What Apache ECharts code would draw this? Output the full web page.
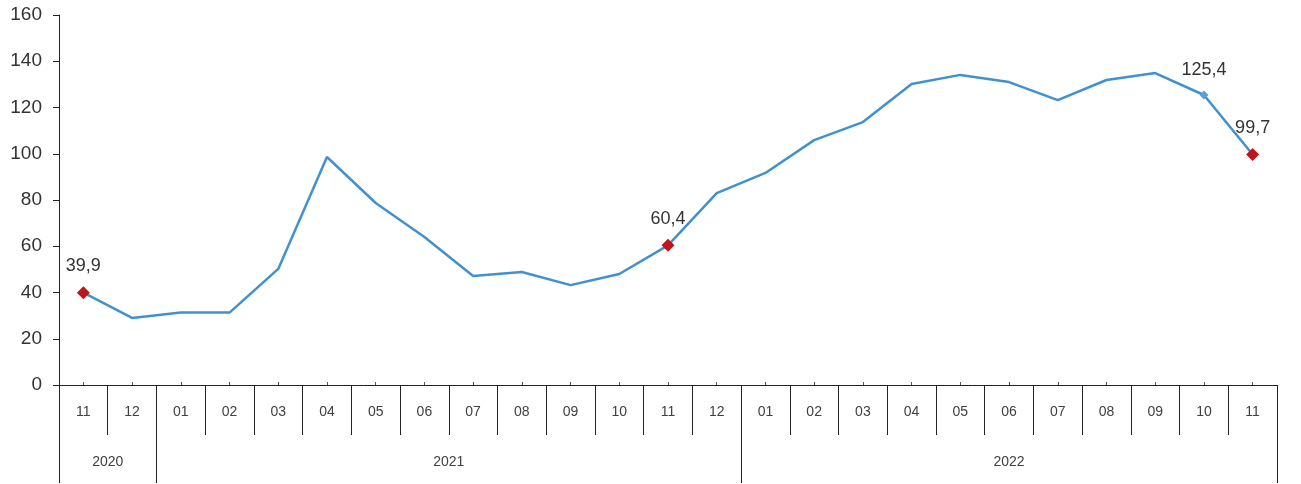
<!DOCTYPE html>
<html>
<head>
<meta charset="utf-8">
<script src="https://cdn.jsdelivr.net/npm/echarts@6/dist/echarts.min.js"></script>
<style>
html,body{margin:0;padding:0;background:#fff;}
#c{width:1301px;height:484px;}
</style>
</head>
<body>
<div id="c"></div>
<script>
var months = ['11','12','01','02','03','04','05','06','07','08','09','10','11','12','01','02','03','04','05','06','07','08','09','10','11'];
var years  = ['2020','2020','2021','2021','2021','2021','2021','2021','2021','2021','2021','2021','2021','2021','2022','2022','2022','2022','2022','2022','2022','2022','2022','2022','2022'];
var values = [39.9,29.0,31.4,31.3,50.2,98.6,78.7,64.0,47.1,48.9,43.2,48.0,60.4,83.0,91.7,105.9,113.7,130.2,134.1,131.0,123.2,131.9,134.9,125.4,99.7];
var redPoints = [0,12,24];
var bluePoints = [23];
var yTicks = {min:0, max:160, interval:20};

var n = months.length;
// year row built in half-category slots
var yearSlots = [];
for (var i = 0; i <= 2*n; i++) yearSlots.push('');
var yearTickSlots = {};
var s = 0;
for (var i = 1; i <= n; i++) {
  if (i === n || years[i] !== years[s]) {
    yearSlots[s + (i - 1) + 1] = years[s];
    yearTickSlots[2*s] = true;
    s = i;
  }
}
yearTickSlots[2*n] = true;

function fmt(v){ return String(v.toFixed(1)).replace('.', ','); }

var data = values.map(function(v, i){
  var item = {value: v};
  if (redPoints.indexOf(i) >= 0) {
    item.symbol = 'diamond'; item.symbolSize = 13;
    item.itemStyle = {color:'#c0141c'};
    item.label = {show:true};
  } else if (bluePoints.indexOf(i) >= 0) {
    item.symbol = 'diamond'; item.symbolSize = 9;
    item.itemStyle = {color:'#5aa0d8'};
    item.label = {show:true};
  } else {
    item.symbol = 'none';
  }
  return item;
});

var font = 'Liberation Sans, Arial, sans-serif';
var chart = echarts.init(document.getElementById('c'));
chart.setOption({
  animation:false,
  grid:{left:59, right:24, top:15, bottom:99},
  xAxis:[
    {
      type:'category', data:months, boundaryGap:true, position:'bottom',
      axisLine:{show:true, lineStyle:{color:'#222', width:1}},
      axisTick:{show:true, interval:0, length:50, lineStyle:{color:'#222', width:1}},
      axisLabel:{interval:0, margin:20, fontSize:14, color:'#404040', fontFamily:font}
    },
    {
      type:'category', data:yearSlots, boundaryGap:false, position:'bottom', offset:50,
      axisLine:{show:false},
      axisTick:{show:true, length:48, interval:function(idx){ return !!yearTickSlots[idx]; }, lineStyle:{color:'#222', width:1}},
      axisLabel:{interval:function(idx, val){ return val !== ''; }, margin:20, fontSize:14, color:'#404040', fontFamily:font}
    },
    {
      type:'category', data:months, boundaryGap:true, position:'bottom',
      axisLine:{show:false},
      axisTick:{show:true, alignWithLabel:true, interval:0, inside:true, length:3, lineStyle:{color:'#555', width:1}},
      axisLabel:{show:false}
    }
  ],
  yAxis:{
    type:'value', min:yTicks.min, max:yTicks.max, interval:yTicks.interval,
    splitLine:{show:false},
    axisLine:{show:true, lineStyle:{color:'#222', width:1}},
    axisTick:{show:true, length:6, lineStyle:{color:'#222'}},
    axisLabel:{margin:17, fontSize:19, color:'#333', fontFamily:font}
  },
  series:[{
    type:'line', xAxisIndex:0, data:data,
    lineStyle:{color:'#4191cf', width:2.5},
    itemStyle:{color:'#4191cf'},
    label:{show:false, position:'top', distance:11, fontSize:18, color:'#333',
      fontFamily:font,
      formatter:function(p){ return fmt(p.value); }},
    z:3
  }]
});
</script>
</body>
</html>
